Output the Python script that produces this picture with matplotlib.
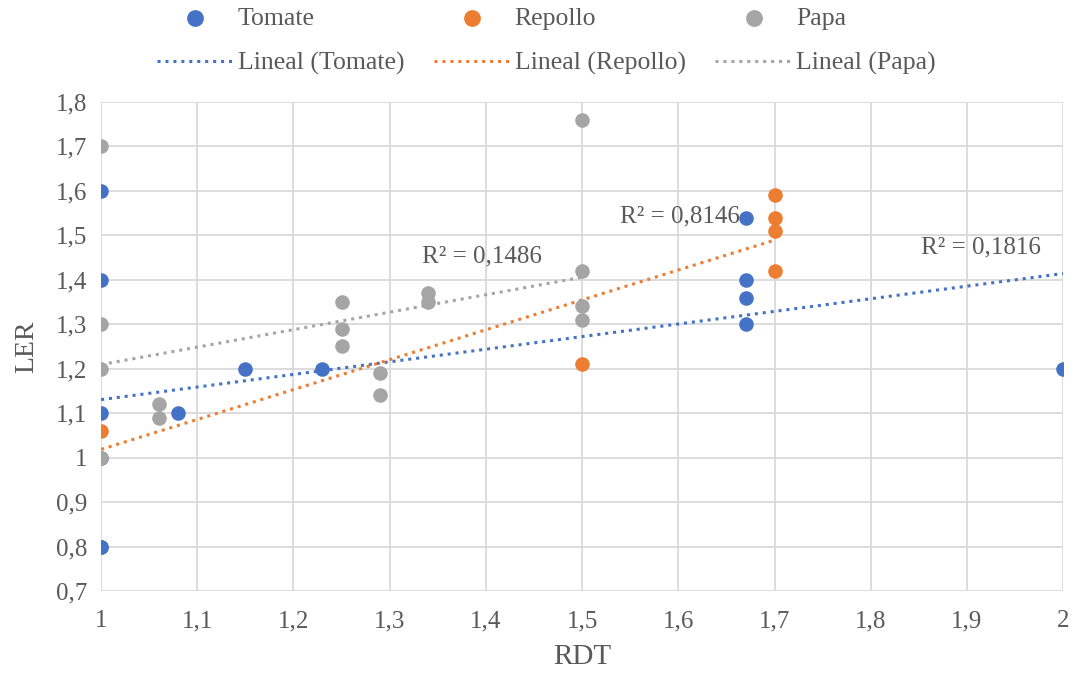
import numpy as np
import matplotlib.pyplot as plt

plt.rcParams['font.family'] = ['Liberation Serif', 'DejaVu Serif']

# data (some Tomate points sit under others / repeat)
tomate_x = [1, 1, 1, 1, 1, 1, 1.08, 1.15, 1.23, 1.67, 1.67, 1.67, 1.67, 2]
tomate_y = [1.6, 1.4, 1.1, 1.0, 0.8, 0.8, 1.1, 1.2, 1.2, 1.54, 1.4, 1.36, 1.3, 1.2]

repollo_x = [1, 1.5, 1.7, 1.7, 1.7, 1.7]
repollo_y = [1.06, 1.21, 1.59, 1.54, 1.51, 1.42]

papa_x = [1, 1, 1, 1, 1.06, 1.06, 1.25, 1.25, 1.25, 1.29, 1.29, 1.34, 1.34,
          1.5, 1.5, 1.5, 1.5]
papa_y = [1.7, 1.3, 1.2, 1.0, 1.12, 1.09, 1.35, 1.29, 1.25, 1.19, 1.14, 1.37, 1.35,
          1.76, 1.42, 1.34, 1.31]

# R² labels as printed on the chart
r2_text = ['0,1816', '0,8146', '0,1486']

series = [
    ('Tomate', tomate_x, tomate_y, '#4472C4', (1.852, 1.472), 'left'),
    ('Repollo', repollo_x, repollo_y, '#ED7D31', (1.664, 1.542), 'right'),
    ('Papa', papa_x, papa_y, '#A5A5A5', (1.334, 1.452), 'left'),
]

txt = '#595959'
fig = plt.figure(figsize=(10.75, 6.75), dpi=100)
ax = fig.add_axes([0.094, 0.1244, 0.895, 0.7246])

handles = []
for (name, xs, ys, col, lab_pos, ha), r2 in zip(series, r2_text):
    xs = np.array(xs)
    ys = np.array(ys)
    m, c = np.polyfit(xs, ys, 1)
    sc = ax.scatter(xs, ys, s=110, color=col, zorder=3, label=name, linewidths=0)
    lx = np.array([xs.min(), xs.max()])
    ln, = ax.plot(lx, m * lx + c, color=col, linestyle=(0, (1, 1.6)), linewidth=2.2,
                  zorder=2, label='Lineal (%s)' % name)
    handles += [sc, ln]
    ax.text(lab_pos[0], lab_pos[1], 'R² = ' + r2, fontsize=18, color=txt,
            ha=ha, va='center', zorder=4)

ax.set_xlim(1, 2)
ax.set_ylim(0.7, 1.8)
xt = np.round(np.arange(1, 2.01, 0.1), 1)
yt = np.round(np.arange(0.7, 1.81, 0.1), 1)
ax.set_xticks(xt)
ax.set_yticks(yt)
ax.set_xticklabels([('%g' % v).replace('.', ',') for v in xt])
ax.set_yticklabels([('%g' % v).replace('.', ',') for v in yt])
ax.tick_params(length=0, labelsize=18, labelcolor=txt)
ax.tick_params(axis='x', pad=14)
ax.tick_params(axis='y', pad=10)
ax.grid(True, color='#D9D9D9', linewidth=1.3)
ax.set_axisbelow(True)
for s in ax.spines.values():
    s.set_visible(False)
ax.set_xlabel('RDT', fontsize=21, color=txt, labelpad=8)
ax.set_ylabel('LER', fontsize=20, color=txt, labelpad=12)

fig.legend(handles=handles, loc='upper center', bbox_to_anchor=(0.508, 1.024), ncol=3,
           frameon=False, fontsize=18.5, labelcolor=txt, handlelength=3.0,
           columnspacing=1.15, handletextpad=0.15, labelspacing=0.85, scatterpoints=1,
           markerscale=1.15)

fig.savefig('out.png', dpi=100)
